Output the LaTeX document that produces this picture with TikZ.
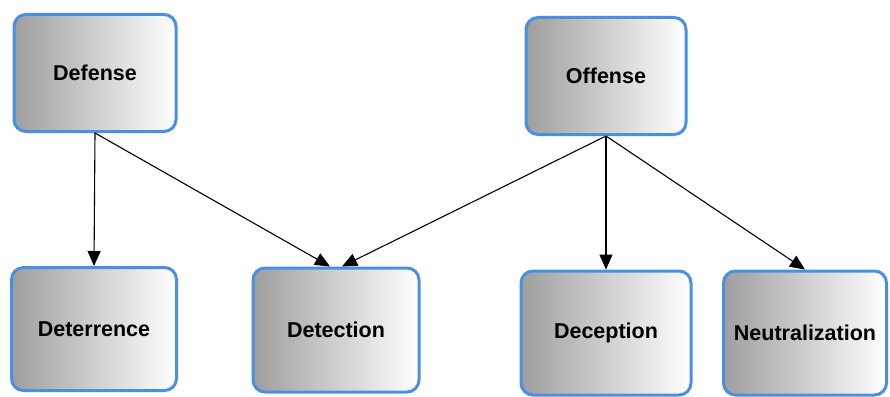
\documentclass[tikz,border=0pt]{standalone}
\usepackage{fontspec}
\setmainfont{Liberation Sans}
\usetikzlibrary{arrows.meta}
\definecolor{boxblue}{RGB}{74,144,226}
\begin{document}
\begin{tikzpicture}[x=1pt, y=-1pt,
    box/.style={draw=boxblue, line width=3pt, rounded corners=12pt, left color=black!38, right color=white, minimum width=164pt, minimum height=120pt, font=\fontsize{21.5}{24}\selectfont\bfseries},
    link/.style={-{Triangle[length=15pt, width=13pt]}, line width=1.1pt}]
    \useasboundingbox (0,0) rectangle (890,396);

    % Top level
    \node[box, minimum width=162pt, minimum height=117pt] (defense) at (95,73) {Defense};
    \node[box, minimum width=160pt, minimum height=117pt] (offense) at (606,76) {Offense};

    % Bottom level
    \node[box, minimum width=165pt, minimum height=123pt] (deterrence) at (94,329) {Deterrence};
    \node[box, minimum width=166pt, minimum height=124pt] (detection) at (336,330) {Detection};
    \node[box, minimum width=170pt, minimum height=124pt] (deception) at (606,333) {Deception};
    \node[box, minimum width=163pt, minimum height=124pt] (neutralization) at (805,333) {Neutralization};

    % Connections
    \draw[link] (defense.south) -- (deterrence.north);
    \draw[link] (defense.south) -- ([xshift=-6pt]detection.north);
    \draw[link] (offense.south) -- ([xshift=6pt]detection.north);
    \draw[link] (offense.south) -- (deception.north);
    \draw[link] (offense.south) -- (neutralization.north);
\end{tikzpicture}
\end{document}
